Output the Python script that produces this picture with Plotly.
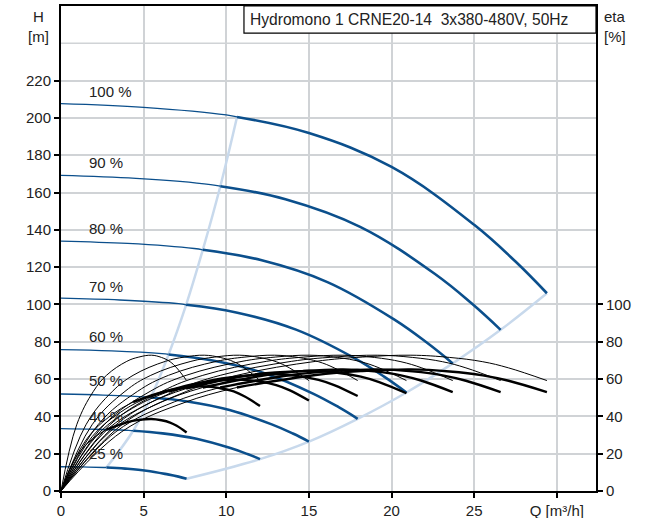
import plotly.graph_objects as go

# ---------------- data ----------------
speed_labels = ["100 %", "90 %", "80 %", "70 %", "60 %", "50 %", "40 %", "25 %"]
label_Q = [1.6, 1.6, 1.6, 1.6, 1.6, 1.6, 1.6, 1.6]
label_H = [214, 176, 140.6, 109.5, 82.6, 59, 40.2, 19.9]

# Pump head curves: thin part (0 .. min flow) and thick part (min flow .. max flow)
H_thin_Q = {
    "100 %": [0, 5.0, 10.0, 10.65],
    "90 %": [0, 4.53, 9.05, 9.64],
    "80 %": [0, 4.03, 8.06, 8.58],
    "70 %": [0, 3.56, 7.11, 7.57],
    "60 %": [0, 3.06, 6.11, 6.51],
    "50 %": [0, 2.55, 5.1, 5.43],
    "40 %": [0, 2.05, 4.1, 4.37],
    "25 %": [0, 1.29, 2.59, 2.75],
}
H_thin_H = {
    "100 %": [207.7, 205.7, 201.6, 200.5],
    "90 %": [169.2, 167.6, 164.3, 163.4],
    "80 %": [134.0, 132.7, 130.0, 129.3],
    "70 %": [103.4, 102.4, 100.4, 99.8],
    "60 %": [75.8, 75.1, 73.6, 73.2],
    "50 %": [52.0, 51.4, 50.4, 50.1],
    "40 %": [33.4, 33.1, 32.5, 32.3],
    "25 %": [13.0, 12.9, 12.6, 12.6],
}
H_thick_Q = {
    "100 %": [10.65, 15.0, 20.0, 25.0, 27.5, 29.4],
    "90 %": [9.64, 13.58, 18.1, 22.63, 24.89, 26.6],
    "80 %": [8.58, 12.09, 16.12, 20.15, 22.17, 23.7],
    "70 %": [7.57, 10.67, 14.22, 17.78, 19.55, 20.9],
    "60 %": [6.51, 9.17, 12.22, 15.28, 16.8, 17.95],
    "50 %": [5.43, 7.65, 10.2, 12.75, 14.03, 15.0],
    "40 %": [4.37, 6.15, 8.2, 10.25, 11.28, 12.04],
    "25 %": [2.75, 3.88, 5.17, 6.46, 7.11, 7.6],
}
H_thick_H = {
    "100 %": [200.5, 191.9, 173.7, 142.7, 123.0, 106.0],
    "90 %": [163.4, 156.4, 141.6, 116.3, 100.2, 86.4],
    "80 %": [129.3, 123.8, 112.0, 92.0, 79.3, 68.4],
    "70 %": [99.8, 95.6, 86.5, 71.1, 61.3, 52.8],
    "60 %": [73.2, 70.0, 63.4, 52.1, 44.9, 38.7],
    "50 %": [50.1, 48.0, 43.4, 35.7, 30.8, 26.5],
    "40 %": [32.3, 30.9, 28.0, 23.0, 19.8, 17.1],
    "25 %": [12.6, 12.0, 10.9, 8.9, 7.7, 6.6],
}

# Boundary lines (light blue)
minflow_Q = [2.75, 4.37, 5.43, 6.51, 7.57, 8.58, 9.64, 10.65]
minflow_H = [12.6, 32.3, 50.1, 73.2, 99.8, 129.3, 163.4, 200.5]
maxflow_Q = [7.6, 12.04, 15.0, 17.95, 20.9, 23.7, 26.6, 29.4]
maxflow_H = [6.6, 17.1, 26.5, 38.7, 52.8, 68.4, 86.4, 106.0]

# Efficiency curves (eta, %)
eta_Q = {
    "25 %": [0, 0.95, 1.96, 2.75, 3.98, 4.71, 5.47, 6.08, 6.60, 7.00, 7.6],
    "40 %": [0, 1.51, 3.11, 4.36, 6.31, 7.46, 8.67, 9.63, 10.45, 11.09, 12.04],
    "50 %": [0, 1.88, 3.87, 5.43, 7.86, 9.3, 10.8, 12.0, 13.02, 13.82, 15.0],
    "60 %": [0, 2.24, 4.63, 6.5, 9.41, 11.13, 12.92, 14.36, 15.58, 16.53, 17.95],
    "70 %": [0, 2.61, 5.39, 7.57, 10.95, 12.96, 15.05, 16.72, 18.14, 19.25, 20.9],
    "80 %": [0, 2.96, 6.11, 8.58, 12.42, 14.69, 17.06, 18.96, 20.57, 21.83, 23.7],
    "90 %": [0, 3.33, 6.86, 9.63, 13.94, 16.49, 19.15, 21.28, 23.09, 24.5, 26.6],
    "100 %": [0, 3.68, 7.59, 10.64, 15.41, 18.23, 21.17, 23.52, 25.52, 27.08, 29.4],
}
eta_pump = [0, 35.5, 53.4, 62.0, 69.5, 71.8, 72.8, 71.6, 69.3, 66.0, 59.2]
eta_total = {
    "25 %": [0, 18.8, 28.3, 32.9, 36.8, 38.1, 38.6, 37.9, 36.7, 35.0, 31.4],
    "40 %": [0, 27.3, 41.1, 47.7, 53.5, 55.3, 56.1, 55.1, 53.4, 50.8, 45.6],
    "50 %": [0, 29.1, 43.8, 50.8, 57.0, 58.9, 59.7, 58.7, 56.8, 54.1, 48.5],
    "60 %": [0, 30.5, 45.9, 53.3, 59.8, 61.7, 62.6, 61.6, 59.6, 56.8, 50.9],
    "70 %": [0, 31.4, 47.3, 54.9, 61.5, 63.5, 64.4, 63.4, 61.3, 58.4, 52.4],
    "80 %": [0, 31.8, 47.8, 55.5, 62.2, 64.3, 65.2, 64.1, 62.0, 59.1, 53.0],
    "90 %": [0, 31.8, 47.8, 55.5, 62.2, 64.3, 65.2, 64.1, 62.0, 59.1, 53.0],
    "100 %": [0, 31.8, 47.8, 55.5, 62.2, 64.3, 65.2, 64.1, 62.0, 59.1, 53.0],
}
SPLIT = 3  # index of min-flow point in eta arrays

title_text = "Hydromono 1 CRNE20-14\u00a0\u00a03x380-480V, 50Hz"
x_ticks = [0, 5, 10, 15, 20, 25, 30]
x_ticktext = ["0", "5", "10", "15", "20", "25", "Q [m³/h]"]
h_ticks = [0, 20, 40, 60, 80, 100, 120, 140, 160, 180, 200, 220]
eta_ticks = [0, 20, 40, 60, 80, 100]

# ---------------- styles ----------------
BLUE = "#0b4f8c"
LIGHT = "#c8d9ec"
GRID = "#d0d3d6"
FONT = "Arial, Liberation Sans, sans-serif"

fig = go.Figure()

def add(x, y, color, width, yaxis="y"):
    fig.add_trace(go.Scatter(x=x, y=y, mode="lines", yaxis=yaxis,
                             line=dict(color=color, width=width, shape="spline", smoothing=1.1),
                             hoverinfo="skip", showlegend=False))

add(minflow_Q, minflow_H, LIGHT, 2.5)
add(maxflow_Q, maxflow_H, LIGHT, 2.5)

for k in eta_Q:
    q = eta_Q[k]
    add(q, eta_pump, "black", 1.0, "y2")
    add(q[:SPLIT + 1], eta_total[k][:SPLIT + 1], "black", 1.0, "y2")
    add(q[SPLIT:], eta_total[k][SPLIT:], "black", 2.4, "y2")

for k in speed_labels:
    add(H_thin_Q[k], H_thin_H[k], BLUE, 1.3)
    add(H_thick_Q[k], H_thick_H[k], BLUE, 2.6)

for lab, qx, hy in zip(speed_labels, label_Q, label_H):
    fig.add_annotation(x=qx, y=hy, text=lab, showarrow=False, xanchor="left",
                       yanchor="middle", font=dict(size=15, color="#222", family=FONT))

# Title box
fig.add_shape(type="rect", xref="paper", yref="paper", x0=0.342, x1=1.0, y0=0.944, y1=1.0,
              line=dict(color="black", width=1.2), fillcolor="white", layer="above")
fig.add_annotation(xref="paper", yref="paper", x=0.35, y=0.972, text=title_text,
                   showarrow=False, xanchor="left", yanchor="middle",
                   font=dict(size=15.6, color="#222", family=FONT))
# extra horizontal grid line above the last labelled tick
fig.add_shape(type="line", xref="paper", yref="y", x0=0, x1=1, y0=240, y1=240,
              line=dict(color=GRID, width=1.5), layer="below")

fig.add_annotation(xref="paper", yref="paper", x=-0.042, y=1.0, text="H<br>[m]",
                   showarrow=False, xanchor="center", yanchor="top", align="center",
                   font=dict(size=15, color="#222", family=FONT))
fig.add_annotation(xref="paper", yref="paper", x=1.012, y=1.0, text="eta<br>[%]",
                   showarrow=False, xanchor="left", yanchor="top", align="left",
                   font=dict(size=15, color="#222", family=FONT))

fig.update_layout(
    width=646, height=518,
    margin=dict(l=61, r=50, t=6, b=27),
    paper_bgcolor="white", plot_bgcolor="white",
    font=dict(family=FONT, size=15, color="#222"),
    xaxis=dict(range=[0, 32.37], tickmode="array", tickvals=x_ticks, ticktext=x_ticktext,
               showgrid=True, gridcolor=GRID, gridwidth=1.5, zeroline=False,
               showline=True, linecolor="black", linewidth=2, mirror=True,
               ticks="outside", ticklen=5, tickwidth=2, tickcolor="black",
               tickfont=dict(size=15), automargin=False),
    yaxis=dict(range=[0, 260], tickmode="array", tickvals=h_ticks,
               showgrid=True, gridcolor=GRID, gridwidth=1.5, zeroline=False,
               showline=True, linecolor="black", linewidth=2,
               ticks="outside", ticklen=5, tickwidth=2, tickcolor="black",
               tickfont=dict(size=15), automargin=False),
    yaxis2=dict(range=[0, 260], overlaying="y", side="right", tickmode="array",
                tickvals=eta_ticks, showgrid=False, zeroline=False,
                showline=True, linecolor="black", linewidth=2,
                ticks="outside", ticklen=5, tickwidth=2, tickcolor="black",
                tickfont=dict(size=15), automargin=False),
)

fig.write_html("out.html", config={"displayModeBar": False},
               post_script="document.body.style.margin='0px';")
